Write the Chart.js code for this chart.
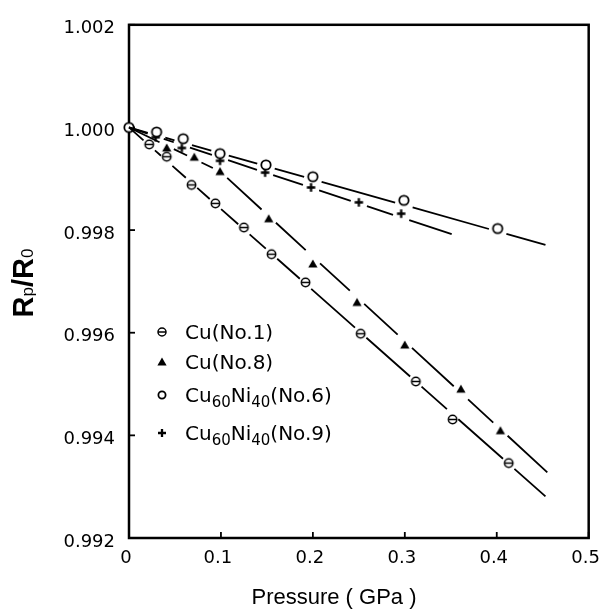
<!DOCTYPE html>
<html><head><meta charset="utf-8">
<script src="https://cdn.jsdelivr.net/npm/chart.js@4.4.1/dist/chart.umd.min.js"></script>
<style>html,body{margin:0;padding:0;background:#fff;}</style>
</head><body>
<canvas id="c" width="613" height="614" style="width:613px;height:614px;display:block"></canvas>
<script>
// ---- data ----
const xTickValues = [0, 0.1, 0.2, 0.3, 0.4, 0.5];
const xTickLabels = ['0', '0.1', '0.2', '0.3', '0.4', '0.5'];
const yTickValues = [0.992, 0.994, 0.996, 0.998, 1.000, 1.002];
const yTickLabels = ['0.992', '0.994', '0.996', '0.998', '1.000', '1.002'];

const cu1P = [0.022, 0.041, 0.068, 0.094, 0.125, 0.155, 0.192, 0.252, 0.312, 0.352, 0.413];
const cu1R = [0.99967, 0.99943, 0.99888, 0.99852, 0.99805, 0.99753, 0.99698, 0.99598, 0.99505, 0.99431, 0.99346];
const cu8P = [0.041, 0.071, 0.099, 0.152, 0.200, 0.248, 0.300, 0.361, 0.404];
const cu8R = [0.99960, 0.99942, 0.99914, 0.99822, 0.99734, 0.99659, 0.99576, 0.99490, 0.99409];
const ni6P = [0, 0.030, 0.059, 0.099, 0.149, 0.200, 0.299, 0.401];
const ni6R = [1.0000, 0.99991, 0.99978, 0.99949, 0.99927, 0.99904, 0.99858, 0.99803];
const ni9P = [0.029, 0.0575, 0.099, 0.148, 0.198, 0.250, 0.296];
const ni9R = [0.99981, 0.99960, 0.99935, 0.99912, 0.99883, 0.99854, 0.99832];

// fitted lines (vertices)
const cu1FitP = [0, 0.453];         const cu1FitR = [1.0, 0.99281];
const cu8FitP = [0, 0.0993, 0.455]; const cu8FitR = [1.0, 0.99914, 0.99328];
const ni6FitP = [0, 0.453];         const ni6FitR = [1.0, 0.99771];
const ni9FitP = [0, 0.351];         const ni9FitR = [1.0, 0.99792];

const legendLabels = ['Cu(No.1)', 'Cu(No.8)', 'Cu_{60}Ni_{40}(No.6)', 'Cu_{60}Ni_{40}(No.9)'];
const xTitle = 'Pressure ( GPa )';
const yTitle = 'R_{p}/R_{0}';

// ---- helpers ----
const pts = (xs, ys) => xs.map((x, i) => ({x: x, y: ys[i]}));
const BLACK = '#000';

function fitY(fp, fr, x) {
  for (let i = 0; i < fp.length - 1; i++) {
    if (x >= fp[i] && x <= fp[i + 1]) return fr[i] + (fr[i + 1] - fr[i]) * (x - fp[i]) / (fp[i + 1] - fp[i]);
  }
  return null;
}
// fitted line, broken (null gaps) where it passes its own markers
function brokenLine(fp, fr, markXs, gap) {
  const end = fp[fp.length - 1];
  const ms = markXs.filter(m => m > 0 && m < end);
  const out = [];
  fp.forEach((x, i) => { if (!ms.some(m => Math.abs(x - m) < gap)) out.push({x: x, y: fr[i]}); });
  ms.forEach(m => {
    out.push({x: m - gap, y: fitY(fp, fr, m - gap)});
    out.push({x: m, y: null});
    out.push({x: m + gap, y: fitY(fp, fr, Math.min(m + gap, end))});
  });
  return out.sort((a, b) => a.x - b.x);
}

function drawGlyph(ctx, kind, c, s) {
  ctx.strokeStyle = BLACK; ctx.fillStyle = BLACK;
  if (kind === 'theta') {
    ctx.lineWidth = 1.5;
    ctx.beginPath(); ctx.arc(c, c, s, 0, Math.PI * 2); ctx.fillStyle = '#fff'; ctx.fill(); ctx.stroke();
    ctx.beginPath(); ctx.moveTo(c - s, c); ctx.lineTo(c + s, c); ctx.stroke();
  } else if (kind === 'tri') {
    ctx.beginPath(); ctx.moveTo(c, c - s); ctx.lineTo(c + s, c + s * 0.75); ctx.lineTo(c - s, c + s * 0.75);
    ctx.closePath(); ctx.fill();
  } else if (kind === 'circle') {
    ctx.lineWidth = 1.8;
    ctx.beginPath(); ctx.arc(c, c, s, 0, Math.PI * 2); ctx.fillStyle = '#fff'; ctx.fill(); ctx.stroke();
  } else {
    ctx.lineWidth = 2.3;
    ctx.beginPath(); ctx.moveTo(c - s, c); ctx.lineTo(c + s, c); ctx.moveTo(c, c - s); ctx.lineTo(c, c + s); ctx.stroke();
  }
}
function makeMarker(kind, size) {
  const cv = document.createElement('canvas');
  cv.width = cv.height = Math.ceil(size * 2 + 6);
  drawGlyph(cv.getContext('2d'), kind, cv.width / 2, size);
  return cv;
}
const mTheta = makeMarker('theta', 4.2);
const mTri = makeMarker('tri', 4.6);
const mCircle = makeMarker('circle', 4.7);
const mPlus = makeMarker('plus', 4.2);

function lineDs(data) {
  return {data: data, showLine: true, spanGaps: false, pointRadius: 0, borderColor: BLACK, borderWidth: 1.8,
          backgroundColor: BLACK, order: 0, clip: false, tension: 0};
}
function markDs(xs, ys, style) {
  return {data: pts(xs, ys), showLine: false, pointStyle: style, pointRadius: 5, rotation: 0,
          pointBorderWidth: 0, order: 5, clip: false};
}

const datasets = [
  lineDs(brokenLine(cu1FitP, cu1FitR, cu1P, 0.0062)),
  lineDs(brokenLine(cu8FitP, cu8FitR, cu8P, 0.0078)),
  lineDs(brokenLine(ni6FitP, ni6FitR, ni6P, 0.0095)),
  lineDs(brokenLine(ni9FitP, ni9FitR, ni9P, 0.0088)),
  markDs(cu1P, cu1R, mTheta),
  markDs(cu8P, cu8R, mTri),
  markDs(ni6P, ni6R, mCircle),
  markDs(ni9P, ni9R, mPlus)
];

function parseRich(s) {
  const parts = []; const re = /_\{([^}]*)\}/g; let last = 0, m;
  while ((m = re.exec(s))) {
    if (m.index > last) parts.push({t: s.slice(last, m.index), sub: false});
    parts.push({t: m[1], sub: true}); last = re.lastIndex;
  }
  if (last < s.length) parts.push({t: s.slice(last), sub: false});
  return parts;
}
function richWidth(ctx, parts, fMain, fSub) {
  let w = 0;
  parts.forEach(p => { ctx.font = p.sub ? fSub : fMain; w += ctx.measureText(p.t).width; });
  return w;
}
function drawRich(ctx, parts, x, y, fMain, fSub, subDy) {
  parts.forEach(p => {
    ctx.font = p.sub ? fSub : fMain;
    ctx.fillText(p.t, x, y + (p.sub ? subDy : 0));
    x += ctx.measureText(p.t).width;
  });
}

const decor = {
  id: 'decor',
  beforeDatasetsDraw(chart) {
    const {ctx, chartArea: a, scales} = chart;
    ctx.save();
    ctx.strokeStyle = BLACK; ctx.lineWidth = 2.5;
    ctx.strokeRect(a.left, a.top, a.right - a.left, a.bottom - a.top);
    ctx.lineWidth = 1.8;
    xTickValues.forEach(v => {
      const px = scales.x.getPixelForValue(v);
      ctx.beginPath(); ctx.moveTo(px, a.bottom); ctx.lineTo(px, a.bottom - 6); ctx.stroke();
    });
    yTickValues.forEach(v => {
      const py = scales.y.getPixelForValue(v);
      ctx.beginPath(); ctx.moveTo(a.left, py); ctx.lineTo(a.left + 6, py); ctx.stroke();
    });
    ctx.restore();
  },
  afterDraw(chart) {
    const {ctx} = chart;
    ctx.save();
    const lx = 162, tx = 185;
    const rows = [332, 362, 395, 433];
    const kinds = ['theta', 'tri', 'circle', 'plus'];
    const sizes = [4, 4.6, 3.6, 4];
    rows.forEach((ry, i) => {
      ctx.save(); ctx.translate(lx - 10, ry - 10);
      drawGlyph(ctx, kinds[i], 10, sizes[i]);
      ctx.restore();
      ctx.fillStyle = BLACK;
      ctx.textBaseline = 'alphabetic'; ctx.textAlign = 'left';
      drawRich(ctx, parseRich(legendLabels[i]), tx, ry + 7, '20px "DejaVu Sans"', '15px "DejaVu Sans"', 5);
    });
    ctx.fillStyle = BLACK;
    ctx.font = '22px "Liberation Sans"';
    ctx.textAlign = 'center'; ctx.textBaseline = 'middle';
    ctx.fillText(xTitle, 334, 598);
    const parts = parseRich(yTitle);
    const fM = 'bold 29px "Liberation Sans"', fS = '17px "Liberation Sans"';
    const w = richWidth(ctx, parts, fM, fS);
    ctx.translate(33, 283); ctx.rotate(-Math.PI / 2);
    ctx.textAlign = 'left'; ctx.textBaseline = 'alphabetic';
    drawRich(ctx, parts, -w / 2, 0, fM, fS, 0);
    ctx.restore();
  }
};

new Chart(document.getElementById('c'), {
  type: 'scatter',
  data: {datasets: datasets},
  options: {
    responsive: false, animation: false, devicePixelRatio: 1, events: [],
    layout: {padding: {top: 18, right: 12, left: 0, bottom: 0}},
    plugins: {legend: {display: false}, tooltip: {enabled: false}},
    scales: {
      x: {
        type: 'linear', min: 0, max: 0.5,
        grid: {display: false, drawTicks: false}, border: {display: false},
        afterBuildTicks: s => { s.ticks = xTickValues.map(v => ({value: v})); },
        afterFit: s => { s.height = 76; },
        ticks: {color: BLACK, font: {family: 'DejaVu Sans', size: 18}, padding: 10, labelOffset: -3,
                maxRotation: 0, autoSkip: false, callback: (v, i) => xTickLabels[i]}
      },
      y: {
        type: 'linear', min: 0.992, max: 1.002,
        grid: {display: false, drawTicks: false}, border: {display: false},
        afterBuildTicks: s => { s.ticks = yTickValues.map(v => ({value: v})); },
        afterFit: s => { s.width = 129; },
        ticks: {color: BLACK, font: {family: 'DejaVu Sans', size: 18}, padding: 14, labelOffset: 4,
                autoSkip: false, callback: (v, i) => yTickLabels[i]}
      }
    }
  },
  plugins: [decor]
});
</script>
</body></html>
